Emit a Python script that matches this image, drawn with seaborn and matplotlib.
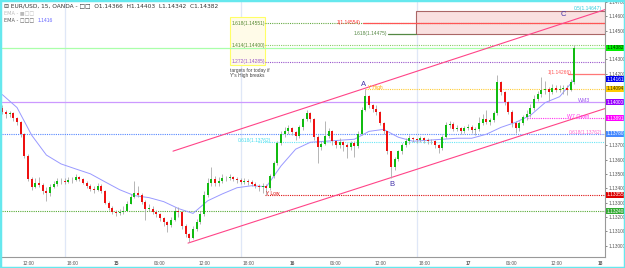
import numpy as np
import pandas as pd
import matplotlib
matplotlib.use("Agg")
import matplotlib.pyplot as plt
from matplotlib.patches import Rectangle
import seaborn as sns

# ---------------- data ----------------
first_open = 1.13960
closes = [1.13936, 1.13916, 1.13923, 1.13888, 1.13861, 1.13778, 1.13626, 1.13467, 1.13412, 1.13440,
          1.13426, 1.13384, 1.13371, 1.13412, 1.13433, 1.13453, 1.13453, 1.13446, 1.13460, 1.13460,
          1.13481, 1.13467, 1.13440, 1.13419, 1.13398, 1.13391, 1.13419, 1.13384, 1.13302, 1.13267,
          1.13233, 1.13226, 1.13233, 1.13246, 1.13295, 1.13343, 1.13371, 1.13357, 1.13308, 1.13260,
          1.13260, 1.13239, 1.13219, 1.13191, 1.13164, 1.13143, 1.13177, 1.13246, 1.13233, 1.13136,
          1.13081, 1.13053, 1.13115, 1.13164, 1.13219, 1.13357, 1.13440, 1.13467, 1.13440, 1.13453,
          1.13474, 1.13474, 1.13481, 1.13467, 1.13460, 1.13446, 1.13453, 1.13446, 1.13433, 1.13419,
          1.13412, 1.13419, 1.13405, 1.13488, 1.13578, 1.13716, 1.13778, 1.13798, 1.13819, 1.13791,
          1.13764, 1.13826, 1.13881, 1.13923, 1.13881, 1.13757, 1.13688, 1.13709, 1.13764, 1.13798,
          1.13729, 1.13702, 1.13722, 1.13702, 1.13688, 1.13716, 1.13695, 1.13778, 1.13950, 1.14047,
          1.13985, 1.13957, 1.13936, 1.13854, 1.13798, 1.13660, 1.13550, 1.13605, 1.13660, 1.13702,
          1.13729, 1.13750, 1.13743, 1.13736, 1.13750, 1.13736, 1.13729, 1.13729, 1.13702, 1.13681,
          1.13757, 1.13840, 1.13847, 1.13812, 1.13819, 1.13798, 1.13819, 1.13826, 1.13805, 1.13812,
          1.13854, 1.13881, 1.13861, 1.13874, 1.13923, 1.14143, 1.14074, 1.14005, 1.13936, 1.13854,
          1.13819, 1.13854, 1.13895, 1.13916, 1.13964, 1.14026, 1.14061, 1.14088, 1.14095, 1.14074,
          1.14102, 1.14088, 1.14095, 1.14102, 1.14088, 1.14143, 1.14382]
highs = [1.1398, 1.1395, 1.1394, 1.1393, 1.1390, 1.1387, 1.1379, 1.1364, 1.1348, 1.1347,
         1.1348, 1.1344, 1.1341, 1.1343, 1.1345, 1.1347, 1.13475, 1.1347, 1.1348, 1.1348,
         1.1350, 1.1349, 1.1347, 1.1345, 1.1343, 1.1342, 1.1344, 1.1343, 1.1339, 1.1331,
         1.1328, 1.1325, 1.1326, 1.1328, 1.1331, 1.1336, 1.1345, 1.1342, 1.1337, 1.1332,
         1.1329, 1.1328, 1.1325, 1.1323, 1.1320, 1.1317, 1.1320, 1.1327, 1.1327, 1.1324,
         1.1315, 1.1309, 1.1314, 1.1319, 1.1324, 1.1338, 1.1347, 1.1355, 1.1349, 1.1348,
         1.1350, 1.1349, 1.1350, 1.1349, 1.1348, 1.1347, 1.1347, 1.13465, 1.1346, 1.13445,
         1.1343, 1.13435, 1.1343, 1.1350, 1.1359, 1.1373, 1.1380, 1.1383, 1.1384, 1.1383,
         1.1380, 1.1384, 1.1389, 1.13945, 1.1393, 1.1389, 1.1377, 1.1373, 1.1387, 1.1382,
         1.1381, 1.1374, 1.1375, 1.1373, 1.1372, 1.1373, 1.1373, 1.1380, 1.1397, 1.14094,
         1.1405, 1.1399, 1.1398, 1.1394, 1.1386, 1.1380, 1.1366, 1.1362, 1.1367, 1.1372,
         1.1375, 1.1377, 1.1376, 1.13755, 1.13765, 1.1376, 1.1375, 1.13745, 1.13735, 1.1371,
         1.1377, 1.1386, 1.1387, 1.1386, 1.1384, 1.1383, 1.13835, 1.1385, 1.1384, 1.1383,
         1.1390, 1.1392, 1.1395, 1.1389, 1.1394, 1.1419, 1.1415, 1.1408, 1.1401, 1.1395,
         1.1387, 1.1387, 1.1391, 1.1395, 1.1399, 1.1405, 1.1408, 1.1418, 1.1415, 1.1411,
         1.1413, 1.1412, 1.1412, 1.1412, 1.1412, 1.1416, 1.14403]
lows = [1.1392, 1.1389, 1.13895, 1.1387, 1.1384, 1.1376, 1.1361, 1.1345, 1.1339, 1.1340,
        1.1341, 1.1336, 1.1331, 1.1335, 1.1340, 1.1342, 1.1343, 1.1343, 1.1344, 1.1344,
        1.1345, 1.1345, 1.1343, 1.1340, 1.1338, 1.1337, 1.1338, 1.1337, 1.1329, 1.1325,
        1.1322, 1.1321, 1.13215, 1.1322, 1.1324, 1.1329, 1.1333, 1.1334, 1.1329, 1.1318,
        1.1324, 1.1322, 1.1320, 1.1317, 1.1314, 1.13095, 1.1313, 1.1317, 1.1320, 1.1312,
        1.1306, 1.13025, 1.13045, 1.1310, 1.1315, 1.1321, 1.1334, 1.1342, 1.1342, 1.1342,
        1.1344, 1.1345, 1.1346, 1.1345, 1.1344, 1.1343, 1.1343, 1.13425, 1.1342, 1.1340,
        1.1338, 1.1337, 1.13355, 1.1339, 1.1347, 1.1356, 1.1370, 1.1376, 1.1378, 1.1377,
        1.1374, 1.1375, 1.1381, 1.1387, 1.1386, 1.1374, 1.1358, 1.1367, 1.1370, 1.1375,
        1.1370, 1.1368, 1.13685, 1.1366, 1.1361, 1.1367, 1.1362, 1.1368, 1.1377, 1.1394,
        1.1396, 1.1393, 1.1391, 1.1384, 1.1378, 1.1364, 1.13474, 1.1353, 1.1359, 1.1364,
        1.1369, 1.1371, 1.13725, 1.1372, 1.13725, 1.1372, 1.1371, 1.1371, 1.1368, 1.1365,
        1.1367, 1.1375, 1.1382, 1.1380, 1.1380, 1.1378, 1.13785, 1.13805, 1.1379, 1.1377,
        1.1380, 1.1384, 1.1385, 1.1384, 1.1386, 1.1391, 1.1405, 1.1398, 1.1392, 1.1383,
        1.1379, 1.1380, 1.1384, 1.1388, 1.1390, 1.1395, 1.1401, 1.1404, 1.1406, 1.1401,
        1.1406, 1.1407, 1.1407, 1.1406, 1.1405, 1.1408, 1.1413]
# EMA read every 4th bar
ema_values = [1.14054, 1.13964, 1.13771, 1.13633, 1.13571, 1.13536, 1.13502, 1.13446, 1.13391, 1.13350,
              1.13336, 1.13308, 1.13260, 1.13226, 1.13314, 1.13362, 1.13405, 1.13419, 1.13412, 1.13557,
              1.13674, 1.13722, 1.13729, 1.13736, 1.13743, 1.13798, 1.13812, 1.13757, 1.13729, 1.13736,
              1.13743, 1.13750, 1.13750, 1.13778, 1.13826, 1.13861, 1.13909, 1.13998, 1.14040, 1.14161]

# hours relative to Jan-15 00:00 (30-min bars)
bar_hours = np.arange(-15.5, 63.0, 0.5)
ema_hours = bar_hours[::4]

xtick_hours = [-12, -6, 0, 6, 12, 18, 24, 30, 36, 42, 48, 54, 60, 66]
xtick_labels = ["12:00", "18:00", "15", "06:00", "12:00", "18:00", "16",
                "06:00", "12:00", "18:00", "17", "06:00", "12:00", "18"]
day_sep_hours = [-7, 17, 41]

# channel trend lines (hour, price)
upper_channel_t = [7.77, 66.68]
upper_channel_p = [1.13660, 1.14647]
lower_channel_t = [9.82, 66.68]
lower_channel_p = [1.13019, 1.13957]

# levels
y_high, y_low = 1.14094, 1.13355
wm3 = 1.14000
w7_open = 1.13891
level_blue = 1.13780
fib618_cyan = 1.13725
support_green = 1.13240
current_price = 1.14382
ema_last = 1.14161
ext_1272, ext_1414, ext_1618 = 1.14285, 1.14400, 1.14551
target_red = 1.14554
target_green = 1.14475
target_salmon = 1.14200
zone_top = 1.14640

# ---------------- plot ----------------
sns.set_style("white")
plt.rcParams['font.family'] = ['Liberation Sans', 'DejaVu Sans']

fig = plt.figure(figsize=(6.25, 2.68), dpi=100)
ax = fig.add_axes([2/625, 11/268, 603/625, 255/268])
xmin, xmax = -15.55, 66.68
ax.set_xlim(xmin, xmax)
ax.set_ylim(1.12922, 1.14682)

df = pd.DataFrame({"t": bar_hours, "close": closes, "high": highs, "low": lows})
df["open"] = [first_open] + closes[:-1]

for t in day_sep_hours:
    ax.axvline(t, color="#dfe7f7", lw=0.9, zorder=0)

dot = (0, (1, 1))
# horizontal levels
ax.axhline(support_green, color="#55aa33", lw=0.8, ls=dot, zorder=1)
ax.plot([20.3, xmax], [y_low, y_low], color="#dd1111", lw=0.8, ls=dot, zorder=1)
ax.axhline(level_blue, color="#5588ff", lw=0.8, ls=dot, zorder=1)
ax.plot([19.4, xmax], [fib618_cyan, fib618_cyan], color="#66e6f6", lw=0.8, ls=dot, zorder=1)
ax.axhline(wm3, color="#cc99ff", lw=0.9, zorder=1)
ax.plot([56.0, xmax], [w7_open, w7_open], color="#ff33ee", lw=0.8, ls=dot, zorder=1)
ax.plot([34.0, xmax], [y_high, y_high], color="#ffcc33", lw=0.8, ls=dot, zorder=1)
ax.plot([61.6, xmax], [target_salmon, target_salmon], color="#ff7777", lw=0.9, zorder=1)
ax.plot([20.3, xmax], [ext_1272, ext_1272], color="#9955cc", lw=0.8, ls=dot, zorder=1)
ax.plot([20.3, xmax], [ext_1414, ext_1414], color="#88cc66", lw=0.8, ls=dot, zorder=1)
ax.plot([20.3, xmax], [ext_1618, ext_1618], color="#66aa44", lw=0.8, ls=dot, zorder=1)
ax.axhline(current_price, color="#aaffaa", lw=0.9, zorder=1)

# target zone
ax.add_patch(Rectangle((40.9, target_green), xmax - 40.9 - 0.05, zone_top - target_green,
                       fc="#f9e0e0", ec="#aa6666", lw=0.8, zorder=0.5))
ax.plot([33.7, xmax], [target_red, target_red], color="#ff5555", lw=0.9, zorder=1)
ax.plot([37.1, 40.9], [target_green, target_green], color="#558844", lw=0.9, zorder=1)

# yellow info box
ax.add_patch(Rectangle((15.5, 1.14261), 4.8, 1.14592 - 1.14261,
                       fc="#fffbe8", ec="#ffff66", lw=0.8, zorder=0.5))
ax.text(15.8, ext_1618, "1.618(1.14551)", fontsize=3.5, color="#558833", va="center", zorder=3)
ax.text(15.8, ext_1414, "1.414(1.14400)", fontsize=3.5, color="#558833", va="center", zorder=3)
ax.text(15.8, ext_1272, "1.272(1.14285)", fontsize=3.5, color="#9955cc", va="center", zorder=3)
ax.text(15.6, 1.14240, "targets for today if\nY's High breaks", fontsize=3.5, color="#444444",
        va="top", linespacing=1.0, zorder=3)

# channel
ax.plot(upper_channel_t, upper_channel_p, color="#ff4488", lw=0.8, zorder=1.5)
ax.plot(lower_channel_t, lower_channel_p, color="#ff4488", lw=0.8, zorder=1.5)

# EMA
sns.lineplot(x=ema_hours, y=ema_values, ax=ax, color="#9999ff", lw=0.7, zorder=2)

# candles
up = df["close"] >= df["open"]
ax.vlines(df["t"], df["low"], df["high"], color="#aaaaaa", lw=0.6, zorder=2.5)
ax.bar(df["t"][up], (df["close"] - df["open"])[up].clip(lower=0.00002), bottom=df["open"][up],
       width=0.3, color="#11bb11", edgecolor="none", zorder=3)
ax.bar(df["t"][~up], (df["open"] - df["close"])[~up].clip(lower=0.00002), bottom=df["close"][~up],
       width=0.3, color="#ee1111", edgecolor="none", zorder=3)

# annotations
fs = 3.5
ax.text(33.4, target_red + 0.00003, "1(1.14554)", fontsize=fs, color="#ff3333", ha="right", va="center")
ax.text(37.0, target_green + 0.00003, "1.618(1.14475)", fontsize=fs, color="#558844", ha="right", va="center")
ax.text(66.3, 1.14655, "0.5(1.14647)", fontsize=fs, color="#33ccdd", ha="right", va="center")
ax.text(61.0, 1.14610, "C", fontsize=5.5, color="#4433aa", ha="center", va="center")
ax.text(33.8, 1.14125, "A", fontsize=5.5, color="#4433aa", ha="center", va="center")
ax.text(37.6, 1.13430, "B", fontsize=5.5, color="#4433aa", ha="center", va="center")
ax.text(34.3, y_high + 0.00012, "Y High", fontsize=fs, color="#ffaa00", ha="left", va="center")
ax.text(20.4, y_low + 0.00010, "Y Low", fontsize=fs, color="#dd1111", ha="left", va="center")
ax.text(58.9, target_salmon + 0.00010, "1(1.14266)", fontsize=fs, color="#ff5555", ha="left", va="center")
ax.text(64.6, wm3 + 0.00012, "WM3", fontsize=3.8, color="#9955ee", ha="right", va="center")
ax.text(64.6, w7_open + 0.00012, "W7 Open", fontsize=3.8, color="#ff33ee", ha="right", va="center")
ax.text(66.3, level_blue + 0.00012, "0.618(1.13762)", fontsize=fs, color="#ff66cc", ha="right", va="center")
ax.text(16.6, fib618_cyan + 0.00008, "0.618(1.13762)", fontsize=fs, color="#44ddee", ha="left", va="center")

# price tags on right axis
tags = [(current_price, "1.14382", "#00ee00", "#003300"),
        (ema_last, "1.14161", "#0000ee", "white"),
        (y_high, "1.14094", "#ffcc00", "#333300"),
        (wm3, "1.14000", "#9900ff", "white"),
        (w7_open, "1.13891", "#ff00ff", "white"),
        (level_blue, "1.13780", "#4488ff", "white"),
        (y_low, "1.13355", "#dd0000", "white"),
        (support_green, "1.13240", "#33aa33", "white")]

# axes styling
for s in ["top", "left"]:
    ax.spines[s].set_visible(False)
for s in ["right", "bottom"]:
    ax.spines[s].set_color("#999999")
    ax.spines[s].set_linewidth(0.8)
ax.yaxis.tick_right()
yt = np.arange(1.130, 1.14701, 0.001)
ax.set_yticks(yt)
tag_prices = np.array([t[0] for t in tags])
ax.set_yticklabels(["" if np.min(np.abs(tag_prices - v)) < 0.00035 else f"{v:.5f}" for v in yt])
ax.set_xticks(xtick_hours)
ax.set_xticklabels(xtick_labels)
ax.tick_params(axis="both", labelsize=3.4, colors="#555555", length=1.5, width=0.5, pad=1.2)
for lbl, txt in zip(ax.get_xticklabels(), xtick_labels):
    if len(txt) == 2:
        lbl.set_fontweight("bold")
ax.set_xlabel("")
ax.set_ylabel("")

for p, txt, bg, fg in tags:
    ax.text(1.0025, p, txt, transform=ax.get_yaxis_transform(), fontsize=3.4, color=fg,
            ha="left", va="center", clip_on=False, zorder=5,
            bbox=dict(boxstyle="square,pad=0.12", fc=bg, ec="none"))

# legend text
fig.text(4/625, 1 - 6/268, "\u229f EUR/USD, 15, OANDA - \u25a1\u25a1  O1.14366  H1.14403  L1.14342  C1.14382",
         fontsize=4.2, color="#333333", va="center", family=['DejaVu Sans'])
fig.text(4/625, 1 - 13/268, "EMA - \u25a0\u25a1\u25a1", fontsize=3.6, color="#bbbbbb", va="center",
         family=['DejaVu Sans'])
fig.text(4/625, 1 - 20/268, "EMA - \u25a1\u25a1\u25a1", fontsize=3.6, color="#555555", va="center",
         family=['DejaVu Sans'])
fig.text(38/625, 1 - 20/268, "1.1416", fontsize=3.6, color="#6666ff", va="center")

# screenshot frame
fig.patches.append(Rectangle((0, 0), 1, 1, transform=fig.transFigure, fill=False,
                             ec="#66e8ee", lw=2.5))

fig.savefig("out.png", dpi=100, facecolor="white")
